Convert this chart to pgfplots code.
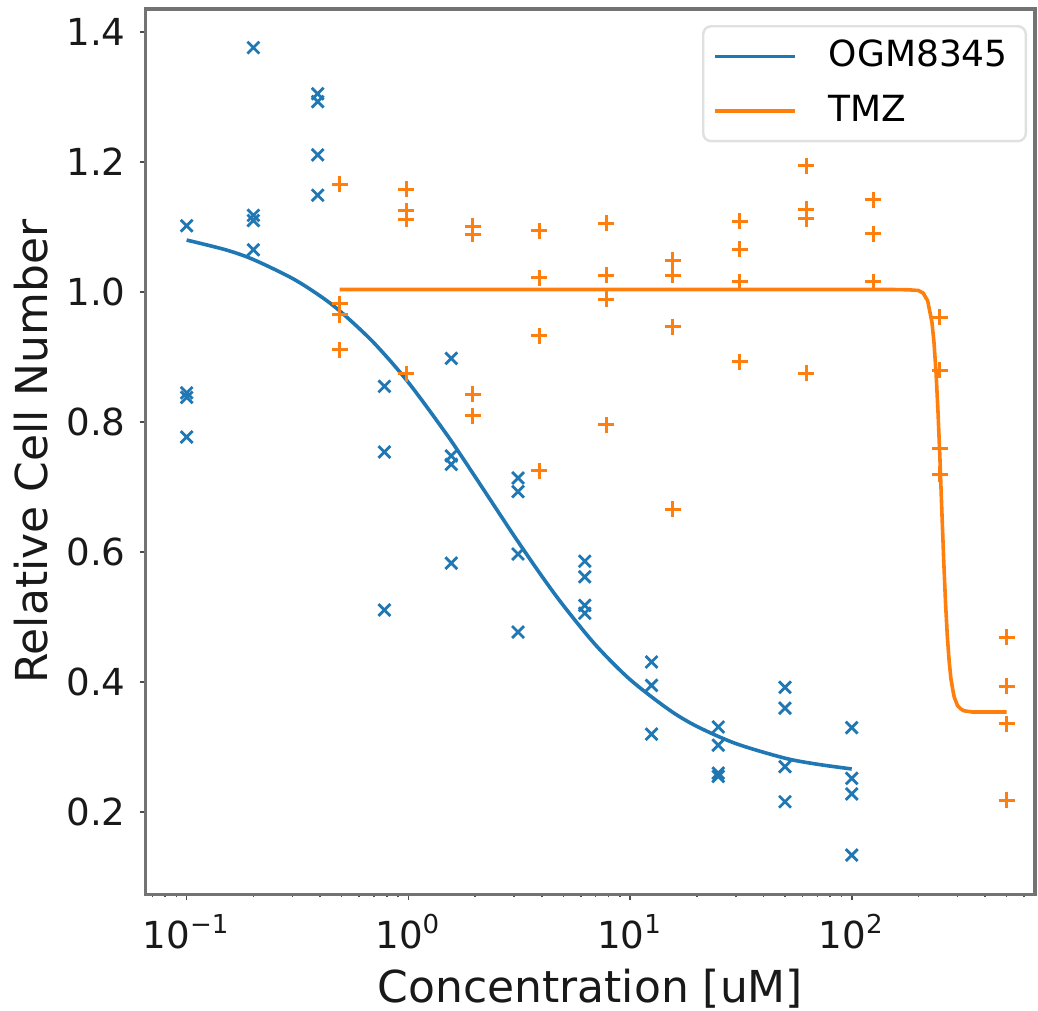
\documentclass[border=0pt]{standalone}
\usepackage{pgfplots}
\pgfplotsset{compat=1.18}
\usepackage{fontspec}
\setmainfont{DejaVu Sans}
\definecolor{tabblue}{HTML}{1F77B4}
\definecolor{taborange}{HTML}{FF7F0E}
\begin{document}
\begin{tikzpicture}
\begin{axis}[
  scale only axis,
  width=222.3pt, height=221.25pt,
  xmode=log, log basis x=10,
  xmin=0.0653, xmax=671,
  ymin=0.0738, ymax=1.4354,
  xtick={0.1,1,10,100},
  xticklabels={10\textsuperscript{−1},10\textsuperscript{0},10\textsuperscript{1},10\textsuperscript{2}},
  minor xtick={0.07,0.08,0.09,0.2,0.3,0.4,0.5,0.6,0.7,0.8,0.9,2,3,4,5,6,7,8,9,20,30,40,50,60,70,80,90,200,300,400,500,600},
  ytick={0.2,0.4,0.6,0.8,1.0,1.2,1.4},
  yticklabel style={/pgf/number format/fixed,/pgf/number format/fixed zerofill,/pgf/number format/precision=1,/pgf/number format/assume math mode=true},
  tick label style={font=\fontsize{9.3}{11}\selectfont, text=black!90},
  xtick pos=bottom, ytick pos=left,
  tick align=outside,
  major tick length=1.5pt, minor tick length=0.8pt,
  every tick/.style={black!70, line width=0.4pt},
  axis line style={black!55, line width=0.8pt},
  xlabel={Concentration [uM]},
  ylabel={Relative Cell Number},
  label style={font=\fontsize{11}{13}\selectfont, text=black!90},
  xlabel style={at={(rel axis cs:0.5,-0.1220)}, anchor=base},
  ylabel style={at={(rel axis cs:-0.1102,0.5)}, anchor=base, rotate=0},
  legend style={at={(rel axis cs:1,1)}, anchor=north east, xshift=-2pt, yshift=-4pt,
    draw=black!12, line width=0.6pt, rounded corners=2pt, font=\fontsize{9}{11}\selectfont,
    inner xsep=2.5pt, inner ysep=1.5pt, row sep=1.5pt,
    /tikz/every odd column/.append style={column sep=6pt}},
  legend cell align=left,
  legend image code/.code={\draw[#1] (0pt,0pt) -- (20pt,0pt);},
]
% OGM8345 data
\addplot[only marks, mark=x, mark size=2.1pt, tabblue, mark options={line width=0.7pt}, forget plot] table {
x y
0.1 1.102
0.1 0.845
0.1 0.838
0.1 0.777
0.2 1.376
0.2 1.118
0.2 1.110
0.2 1.065
0.39 1.305
0.39 1.293
0.39 1.211
0.39 1.149
0.78 0.855
0.78 0.754
0.78 0.511
1.5625 0.898
1.5625 0.748
1.5625 0.735
1.5625 0.583
3.125 0.714
3.125 0.693
3.125 0.597
3.125 0.477
6.25 0.586
6.25 0.562
6.25 0.518
6.25 0.506
12.5 0.431
12.5 0.395
12.5 0.320
25 0.331
25 0.303
25 0.260
25 0.255
50 0.392
50 0.360
50 0.270
50 0.216
100 0.330
100 0.252
100 0.228
100 0.134
};
% TMZ data
\addplot[only marks, mark=+, mark size=2pt, taborange, mark options={line width=0.75pt}, forget plot] table {
x y
0.49 1.166
0.49 0.982
0.49 0.965
0.49 0.911
0.98 1.158
0.98 1.125
0.98 1.112
0.98 0.874
1.95 1.101
1.95 1.089
1.95 0.843
1.95 0.810
3.9 1.094
3.9 1.022
3.9 0.933
3.9 0.725
7.8 1.106
7.8 1.026
7.8 0.989
7.8 0.796
15.6 1.049
15.6 1.026
15.6 0.947
15.6 0.666
31.25 1.109
31.25 1.066
31.25 1.016
31.25 0.893
62.5 1.194
62.5 1.127
62.5 1.113
62.5 0.875
125 1.142
125 1.090
125 1.016
250 0.961
250 0.880
250 0.760
250 0.720
500 0.469
500 0.394
500 0.336
500 0.218
};
% OGM8345 fit
\addplot[tabblue, line width=0.9pt, smooth, no marks] table {
x y
0.1 1.080
0.15 1.065
0.2 1.050
0.3 1.021
0.4 0.994
0.5 0.9685
0.7 0.9217
1.0 0.861
1.5 0.7795
2 0.716
3 0.625
4 0.563
5 0.518
7 0.457
10 0.404
15 0.3575
20 0.332
30 0.3055
50 0.283
70 0.2737
100 0.2664
};
\addlegendentry{OGM8345}
% TMZ fit
\addplot[taborange, line width=0.9pt, no marks] table {
x y
0.49 1.004
150 1.004
180 1.0035
200 1.0024
210 0.9985
220 0.9866
230 0.954
235 0.9225
240 0.877
245 0.816
250 0.743
255 0.663
260 0.587
265 0.521
270 0.470
275 0.433
280 0.406
285 0.390
290 0.377
300 0.364
310 0.359
320 0.356
350 0.354
500 0.354
};
\addlegendentry{TMZ}
\coordinate (BL) at (rel axis cs:0,0);
\coordinate (TR) at (rel axis cs:1,1);
\end{axis}
\pgfresetboundingbox
\path ([shift={(-36.4pt,-29pt)}]BL) rectangle ([shift={(0.75pt,2.25pt)}]TR);
\end{tikzpicture}
\end{document}
